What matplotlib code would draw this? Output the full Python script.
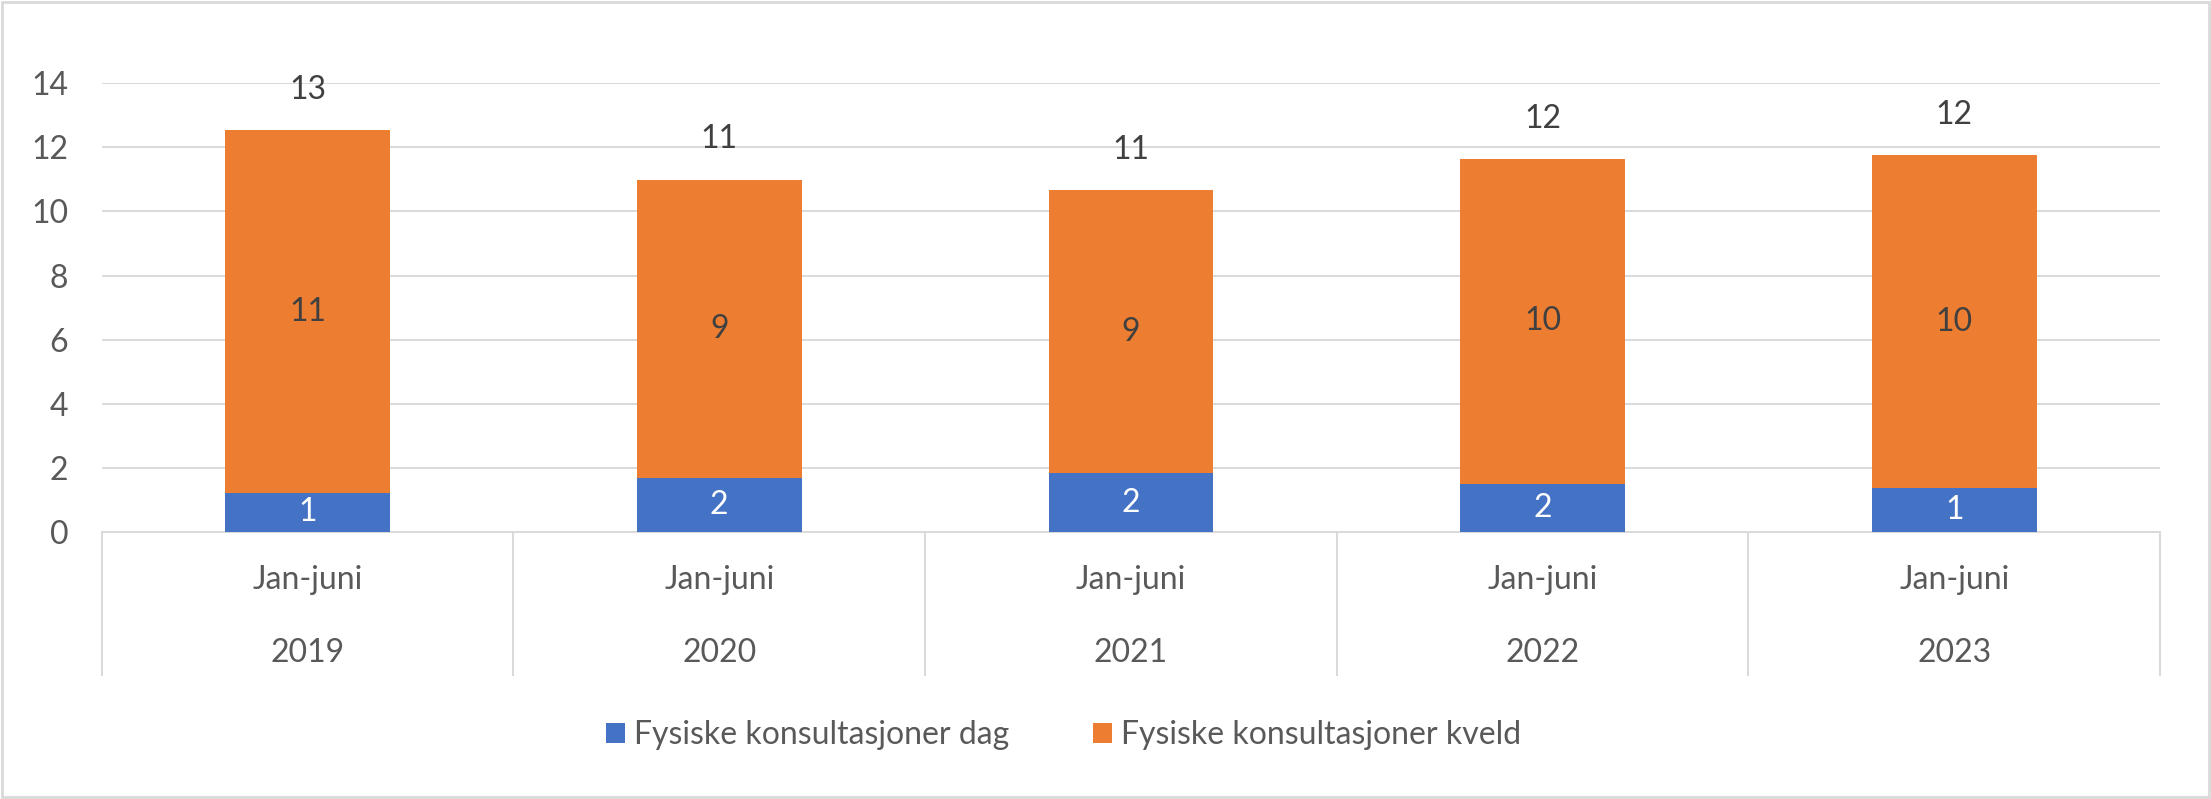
import matplotlib.pyplot as plt
from matplotlib.patches import Rectangle
import matplotlib.transforms as mtransforms

plt.rcParams['font.family'] = ['Lato', 'DejaVu Sans']

# data
periods = ["Jan-juni"] * 5
years = ["2019", "2020", "2021", "2022", "2023"]
dag = [1.22, 1.69, 1.82, 1.5, 1.37]
kveld = [11.31, 9.30, 8.85, 10.14, 10.38]
totals = [d + k for d, k in zip(dag, kveld)]

blue = "#4472C4"
orange = "#ED7D31"
grid_col = "#D9D9D9"
text_col = "#595959"
label_col = "#404040"
fs = 23

fig = plt.figure(figsize=(22.11, 7.99), dpi=100)
ax = fig.add_axes([0.046, 0.3345, 0.931, 0.5612])

x = list(range(len(years)))
b1 = ax.bar(x, dag, width=0.4, color=blue, label="Fysiske konsultasjoner dag", zorder=3)
b2 = ax.bar(x, kveld, width=0.4, bottom=dag, color=orange,
            label="Fysiske konsultasjoner kveld", zorder=3)

# labels inside the bars and totals above
for i in x:
    ax.text(i, dag[i] / 2, "%.0f" % dag[i], ha="center", va="center",
            color="white", fontsize=fs, zorder=4)
    ax.text(i, dag[i] + kveld[i] / 2, "%.0f" % kveld[i], ha="center", va="center",
            color=label_col, fontsize=fs, zorder=4)
    ax.annotate("%.0f" % totals[i], (i, totals[i]), xytext=(0, 29),
                textcoords="offset points", ha="center", va="center",
                color=label_col, fontsize=fs, annotation_clip=False)

ax.set_xlim(-0.5, 4.5)
ax.set_ylim(0, 14)
ax.set_yticks(range(0, 15, 2))
ax.yaxis.grid(True, color=grid_col, linewidth=1.4, zorder=0)
ax.set_xticks([])
ax.tick_params(axis="y", length=0, pad=24, labelsize=fs, labelcolor=text_col)
for s in ["top", "right", "left"]:
    ax.spines[s].set_visible(False)
ax.spines["bottom"].set_color(grid_col)
ax.spines["bottom"].set_linewidth(1.4)

# two-level category axis
trans = mtransforms.blended_transform_factory(ax.transData, ax.transAxes)
for i in x:
    ax.text(i, -0.108, periods[i], transform=trans, ha="center", va="center",
            fontsize=fs, color=text_col)
    ax.text(i, -0.271, years[i], transform=trans, ha="center", va="center",
            fontsize=fs, color=text_col)
for xs in [-0.5, 0.5, 1.5, 2.5, 3.5, 4.5]:
    ax.plot([xs, xs], [0, -0.32], transform=trans, color=grid_col,
            linewidth=1.4, clip_on=False)

fig.legend(handles=[b1, b2], loc="center", bbox_to_anchor=(0.481, 0.08), ncol=2,
           frameon=False, fontsize=fs, labelcolor=text_col, handlelength=0.6,
           handleheight=0.6, handletextpad=0.3, columnspacing=2.6)

fig.patches.append(Rectangle((0.001, 0.002), 0.998, 0.996, transform=fig.transFigure,
                             fill=False, edgecolor=grid_col, linewidth=2))

fig.savefig("out.png", dpi=100)
